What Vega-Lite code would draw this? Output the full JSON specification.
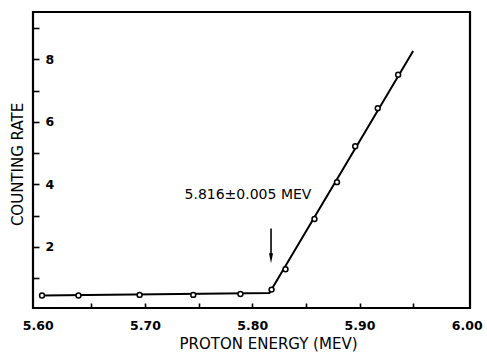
{
  "$schema": "https://vega.github.io/schema/vega-lite/v6.json",
  "width": 437,
  "height": 296,
  "autosize": "none",
  "padding": {"left": 33, "top": 12, "right": 17, "bottom": 44},
  "background": "white",
  "config": {
    "view": {"stroke": "black", "strokeWidth": 2.2},
    "font": "DejaVu Sans",
    "axis": {
      "domain": false,
      "grid": false,
      "tickColor": "black",
      "tickWidth": 1.6,
      "labelColor": "black",
      "titleColor": "black",
      "labelFont": "DejaVu Sans",
      "titleFont": "DejaVu Sans",
      "titleFontWeight": "normal",
      "labelOverlap": false,
      "labelBound": false,
      "labelFlush": false
    }
  },
  "resolve": {"axis": {"x": "independent", "y": "independent"}},
  "datasets": {
    "points": [
      {"energy": 5.604, "rate": 0.44},
      {"energy": 5.638, "rate": 0.44},
      {"energy": 5.695, "rate": 0.46},
      {"energy": 5.745, "rate": 0.46},
      {"energy": 5.789, "rate": 0.49},
      {"energy": 5.818, "rate": 0.63},
      {"energy": 5.831, "rate": 1.28},
      {"energy": 5.858, "rate": 2.89},
      {"energy": 5.879, "rate": 4.07},
      {"energy": 5.896, "rate": 5.22},
      {"energy": 5.917, "rate": 6.44},
      {"energy": 5.936, "rate": 7.51}
    ],
    "fit": [
      {"energy": 5.604, "rate": 0.44},
      {"energy": 5.816, "rate": 0.52},
      {"energy": 5.950, "rate": 8.27}
    ],
    "arrow": [
      {"energy": 5.8175, "top": 2.59, "head": 1.63}
    ],
    "label": [
      {"energy": 5.796, "rate": 3.66, "text": "5.816±0.005 MEV"}
    ]
  },
  "layer": [
    {
      "data": {"name": "fit"},
      "mark": {"type": "line", "color": "black", "strokeWidth": 2},
      "encoding": {
        "x": {
          "field": "energy",
          "type": "quantitative",
          "scale": {"domain": [5.5956, 6.003], "nice": false, "zero": false},
          "axis": {
            "orient": "bottom",
            "values": [5.65, 5.7, 5.75, 5.8, 5.85, 5.9, 5.95],
            "labels": false,
            "tickSize": -5,
            "title": "PROTON ENERGY (MEV)",
            "titleFontSize": 15,
            "titleX": 235,
            "titleY": 28,
            "titleBaseline": "top"
          }
        },
        "y": {
          "field": "rate",
          "type": "quantitative",
          "scale": {"domain": [0.04, 9.52], "nice": false, "zero": false},
          "axis": {
            "orient": "left",
            "values": [1, 2, 3, 4, 5, 6, 7, 8, 9],
            "labels": false,
            "tickSize": -6,
            "title": "COUNTING RATE",
            "titleFontSize": 15,
            "titleX": -16,
            "titleY": 152,
            "titleAlign": "center",
            "titleBaseline": "middle",
            "titleAngle": -90
          }
        }
      }
    },
    {
      "data": {"name": "points"},
      "mark": {"type": "point", "shape": "circle", "filled": false, "fill": "white", "fillOpacity": 1, "stroke": "black", "strokeWidth": 1.5, "size": 24, "opacity": 1},
      "encoding": {
        "x": {
          "field": "energy",
          "type": "quantitative",
          "axis": {
            "orient": "bottom",
            "values": [5.6, 5.7, 5.8, 5.9, 6.0],
            "format": ".2f",
            "ticks": false,
            "labelPadding": 11,
            "labelFontSize": 12.5,
            "labelFontWeight": "bold",
            "title": null
          }
        },
        "y": {
          "field": "rate",
          "type": "quantitative",
          "axis": {
            "orient": "left",
            "values": [2, 4, 6, 8],
            "format": "d",
            "ticks": false,
            "labelAlign": "left",
            "labelPadding": 0,
            "offset": -12,
            "labelFontSize": 12.5,
            "labelFontWeight": "bold",
            "title": null
          }
        }
      }
    },
    {
      "data": {"name": "arrow"},
      "mark": {"type": "rule", "color": "black", "strokeWidth": 1.6},
      "encoding": {
        "x": {"field": "energy", "type": "quantitative", "axis": null},
        "y": {"field": "top", "type": "quantitative", "axis": null},
        "y2": {"field": "head"}
      }
    },
    {
      "data": {"name": "arrow"},
      "mark": {"type": "point", "shape": "M-0.4,-1L0.4,-1L0,1Z", "filled": true, "color": "black", "size": 100, "opacity": 1},
      "encoding": {
        "x": {"field": "energy", "type": "quantitative", "axis": null},
        "y": {"field": "head", "type": "quantitative", "axis": null}
      }
    },
    {
      "data": {"name": "label"},
      "mark": {"type": "text", "fontSize": 14, "align": "center", "baseline": "middle", "color": "black", "font": "DejaVu Sans"},
      "encoding": {
        "x": {"field": "energy", "type": "quantitative", "axis": null},
        "y": {"field": "rate", "type": "quantitative", "axis": null},
        "text": {"field": "text"}
      }
    }
  ]
}
